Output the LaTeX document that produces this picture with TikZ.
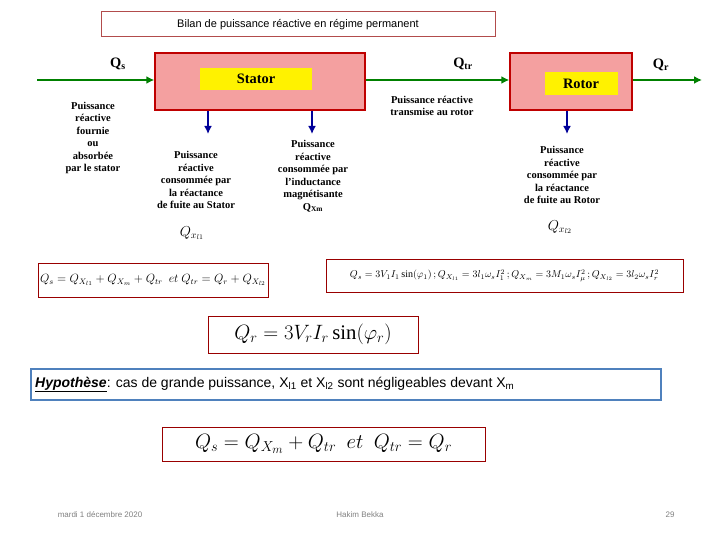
\documentclass[tikz,border=0pt]{standalone}
\usepackage{fontspec}
\setmainfont{Liberation Serif}
\setsansfont{Liberation Sans}
\usetikzlibrary{arrows.meta}
\definecolor{pinkf}{HTML}{F4A0A0}
\definecolor{steel}{HTML}{4F81BD}
\begin{document}
\begin{tikzpicture}[x=1pt,y=-1pt,
 blk/.style={draw=red!75!black,line width=1.4pt,fill=pinkf},
 yel/.style={fill=yellow,font=\bfseries\Large},
 grn/.style={draw=green!50!black,line width=2.2pt,-{Latex[length=8pt,width=8pt]}},
 blu/.style={draw=blue!60!black,line width=2.4pt,-{Latex[length=8pt,width=8pt]}},
 lbl/.style={font=\bfseries\fontsize{10.5}{12.5}\selectfont,align=center,inner sep=0pt},
 eq/.style={draw=red!60!black,line width=0.8pt,inner sep=3pt},
 foot/.style={font=\sffamily\footnotesize,text=gray}]
\useasboundingbox (0,0) rectangle (720,540);
\node[draw=red!40!gray,line width=1pt,minimum width=394pt,minimum height=25pt,font=\sffamily\fontsize{11}{13}\selectfont] (title) at (298,24.5) {Bilan de puissance réactive en régime permanent};
\node[blk,minimum width=210pt,minimum height=57pt] (st) at (260,81.5) {};
\node[yel,minimum width=112pt,minimum height=22pt] (sty) at (256,79) {Stator};
\node[blk,minimum width=122pt,minimum height=57pt] (ro) at (571,81.5) {};
\node[yel,minimum width=73pt,minimum height=23pt] (roy) at (581,84) {Rotor};
\coordinate (in) at (37,80);
\coordinate (out) at (702,80);
\draw[grn] (in) -- (st.west|-in);
\draw[grn] (st.east|-in) -- (ro.west|-in);
\draw[grn] (ro.east|-in) -- (out);
\node[font=\bfseries\Large] (qs) at (118,64) {Q\textsubscript{s}};
\node[font=\bfseries\Large] (qtr) at (463,64) {Q\textsubscript{tr}};
\node[font=\bfseries\Large] (qr) at (661,65) {Q\textsubscript{r}};
\coordinate (b1) at (208,134); \coordinate (b2) at (312,134); \coordinate (b3) at (567,134);
\draw[blu] (st.south-|b1) -- (b1);
\draw[blu] (st.south-|b2) -- (b2);
\draw[blu] (ro.south-|b3) -- (b3);
\node[lbl] (t1) at (93,138) {Puissance\\réactive\\fournie\\ou\\absorbée\\par le  stator};
\node[lbl] (t2) at (196,180) {Puissance\\réactive\\consommée par\\la réactance\\de fuite au Stator};
\node[lbl] (t3) at (313,176) {Puissance\\réactive\\consommée par\\l'inductance\\magnétisante\\Q\textsubscript{Xm}};
\node[lbl] (t4) at (432,106) {Puissance réactive\\transmise au rotor};
\node[lbl] (t5) at (562,175) {Puissance\\réactive\\consommée par\\la réactance\\de fuite au Rotor};
\node[font=\Large] (q1) at (192,233) {$Q_{x_{l1}}$};
\node[font=\Large] (q2) at (560,227) {$Q_{x_{l2}}$};
\node[eq,minimum width=230pt,minimum height=34pt,font=\large,inner xsep=1pt] (e1) at (153,280) {$Q_s=Q_{X_{l1}}+Q_{X_m}+Q_{tr}\ \ et\ Q_{tr}=Q_r+Q_{X_{l2}}$};
\node[eq,minimum width=357pt,minimum height=33pt,font=\normalsize,inner xsep=1pt] (e2) at (504.5,275.5) {$Q_s=3V_1I_1\sin(\varphi_1)\,;Q_{X_{l1}}=3l_1\omega_sI_1^2\,;Q_{X_m}=3M_1\omega_sI_\mu^2\,;Q_{X_{l2}}=3l_2\omega_sI_r^2$};
\node[eq,minimum width=210pt,minimum height=37pt,font=\huge] (e3) at (313,334.5) {$Q_r=3V_rI_r\sin(\varphi_r)$};
\node[draw=steel,line width=2.4pt,minimum height=31pt,text width=622pt,align=flush left,anchor=west,font=\sffamily\fontsize{14}{16}\selectfont,inner xsep=4pt] (hyp) at (30,384.5) {\underline{\textbf{\textit{Hypothèse}}}: cas de grande puissance, X\textsubscript{l1} et X\textsubscript{l2} sont négligeables devant X\textsubscript{m}};
\node[eq,minimum width=323pt,minimum height=34pt,font=\huge] (e4) at (323.5,444) {$Q_s=Q_{X_m}+Q_{tr}\ \ et\ \ Q_{tr}=Q_r$};
\node[foot] (f1) at (100,515) {mardi 1 décembre 2020};
\node[foot] (f2) at (360,515) {Hakim Bekka};
\node[foot] (f3) at (670,515) {29};
\end{tikzpicture}
\end{document}
